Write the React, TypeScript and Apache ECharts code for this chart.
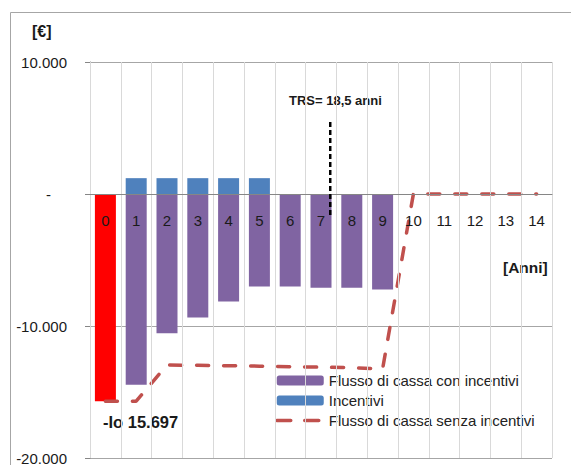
import React, { useEffect, useRef } from 'react';
import * as echarts from 'echarts';

const years = ['0', '1', '2', '3', '4', '5', '6', '7', '8', '9', '10', '11', '12', '13', '14'];
const flowWithIncentives: (number | null)[] = [-15697, -14450, -10550, -9350, -8150, -7000, -7000, -7100, -7100, -7230, null, null, null, null, null];
const incentives: (number | null)[] = [null, 1200, 1200, 1200, 1200, 1200, null, null, null, null, null, null, null, null, null];
const flowWithoutIncentives = [-15697, -15697, -12950, -12980, -13010, -13040, -13080, -13120, -13160, -13250, 0, 0, 0, 0, 0];
const trsPosition = 7.3;
const trsRange = [5450, -1600];
const yMin = -20000;
const yMax = 10000;
const yStep = 10000;

const FONT = '"Liberation Sans", Arial, sans-serif';
const W = 571;
const H = 465;
const GRID_TOP = 62;
const GRID_BOTTOM = 7;

function fmt(v: number): string {
  if (v === 0) return '{z|-}';
  const s = Math.abs(v).toString().replace(/\B(?=(\d{3})+(?!\d))/g, '.');
  return (v < 0 ? '-' : '') + s;
}

export default function App() {
  const ref = useRef<HTMLDivElement>(null);
  useEffect(() => {
    if (!ref.current) return;
    const chart = echarts.init(ref.current, undefined, { renderer: 'svg' });
    const gridHeight = H - GRID_TOP - GRID_BOTTOM;
    // move the category axis up to the zero line (labels follow)
    const zeroOffset = -(gridHeight * (0 - yMin)) / (yMax - yMin);
    chart.setOption({
      animation: false,
      backgroundColor: '#ffffff',
      textStyle: { fontFamily: FONT },
      grid: { left: 90, right: 19, top: GRID_TOP, bottom: GRID_BOTTOM, containLabel: false, outerBoundsMode: 'none' },
      legend: {
        data: [
          'Flusso di cassa con incentivi',
          'Incentivi',
          {
            name: 'Flusso di cassa senza incentivi',
            itemStyle: { opacity: 0 },
            lineStyle: { type: [14, 14], cap: 'round', width: 3.5, color: '#C0504D' },
          },
        ],
        orient: 'vertical',
        left: 270,
        top: 368,
        itemWidth: 47,
        itemHeight: 10,
        itemGap: 5,
        textStyle: { fontSize: 15, color: '#222', fontFamily: FONT },
      },
      xAxis: [
        {
          type: 'category',
          data: years,
          boundaryGap: true,
          position: 'bottom',
          offset: zeroOffset,
          z: 5,
          axisLine: { show: true, onZero: false, lineStyle: { color: '#868686', width: 1 } },
          axisTick: { show: false },
          axisLabel: { interval: 0, margin: 19, fontSize: 15, color: '#1a1a1a', fontFamily: FONT },
          splitLine: { show: true, interval: 0, lineStyle: { color: '#d9d9d9', width: 1 } },
        },
        {
          type: 'value',
          min: -0.5,
          max: 14.5,
          show: false,
          axisLine: { onZero: false },
        },
      ],
      yAxis: {
        type: 'value',
        min: yMin,
        max: yMax,
        interval: yStep,
        axisLine: { show: true, onZero: false, lineStyle: { color: '#868686' } },
        axisTick: { show: true, inside: false, length: 5, lineStyle: { color: '#868686' } },
        axisLabel: {
          margin: 23,
          fontSize: 15,
          color: '#1a1a1a',
          fontFamily: FONT,
          formatter: (v: number) => fmt(v),
          rich: { z: { fontSize: 15, color: '#1a1a1a', padding: [0, 16, 0, 0], fontFamily: FONT } },
        },
        splitLine: { show: true, lineStyle: { color: '#a6a6a6', width: 1 } },
      },
      series: [
        {
          name: 'Flusso di cassa con incentivi',
          type: 'bar',
          data: flowWithIncentives.map((v, i) => (i === 0 ? { value: v, itemStyle: { color: '#FF0000' } } : v)),
          barWidth: 21,
          barGap: '-100%',
          itemStyle: { color: '#8064A2' },
        },
        {
          name: 'Incentivi',
          type: 'bar',
          data: incentives,
          barWidth: 21,
          barGap: '-100%',
          itemStyle: { color: '#4F81BD' },
        },
        {
          name: 'Flusso di cassa senza incentivi',
          type: 'line',
          data: flowWithoutIncentives,
          symbol: 'none',
          showSymbol: false,
          z: 4,
          lineStyle: { color: '#C0504D', width: 3.5, type: [12, 15], cap: 'round' },
          itemStyle: { color: '#C0504D' },
        },
        {
          name: 'TRS',
          type: 'line',
          xAxisIndex: 1,
          data: [[trsPosition, trsRange[0]], [trsPosition, trsRange[1]]],
          symbol: 'none',
          showSymbol: false,
          z: 6,
          lineStyle: { color: '#000000', width: 2.5, type: [5, 3] },
        },
      ],
      graphic: [
        {
          type: 'rect',
          shape: { x: 10.5, y: 12.5, width: 700, height: 600 },
          style: { fill: 'none', stroke: '#a6a6a6', lineWidth: 1 },
          silent: true,
        },
        {
          type: 'text',
          left: 32,
          top: 23,
          style: { text: '[€]', font: `bold 16px ${FONT}`, fill: '#1a1a1a' },
        },
        {
          type: 'text',
          left: 503,
          top: 259,
          style: { text: '[Anni]', font: `bold 15.5px ${FONT}`, fill: '#1a1a1a' },
        },
        {
          type: 'text',
          left: 103,
          top: 413,
          style: { text: '-Io 15.697', font: `bold 16.5px ${FONT}`, fill: '#1a1a1a' },
        },
        {
          type: 'text',
          left: 289,
          top: 94,
          style: { text: 'TRS= 18,5 anni', font: `bold 13px ${FONT}`, fill: '#1a1a1a' },
        },
      ],
    });
    return () => chart.dispose();
  }, []);
  return <div ref={ref} style={{ position: 'absolute', left: 0, top: 0, width: W, height: H }} />;
}
